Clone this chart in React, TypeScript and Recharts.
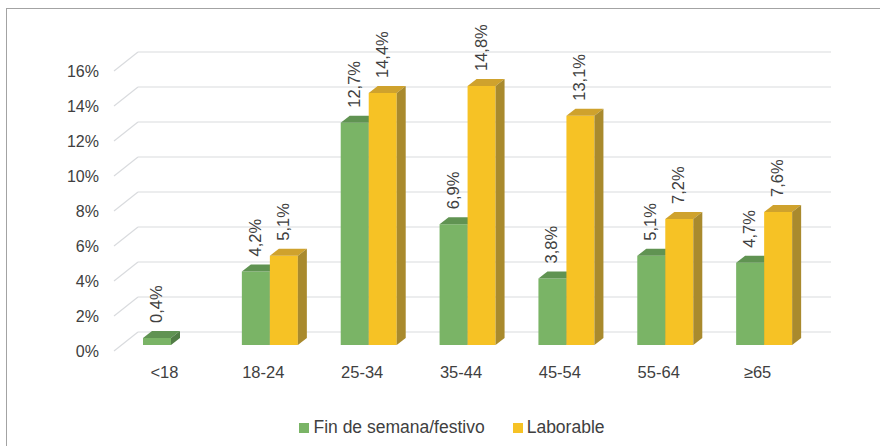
import React from 'react'
import { BarChart, Bar, XAxis, YAxis, CartesianGrid, Legend, LabelList } from 'recharts'

// age groups and share of trips (%)
const categories = ['<18', '18-24', '25-34', '35-44', '45-54', '55-64', '≥65']
const finDeSemana = [0.4, 4.2, 12.7, 6.9, 3.8, 5.1, 4.7]
const laborable: (number | null)[] = [null, 5.1, 14.4, 14.8, 13.1, 7.2, 7.6]
const yTicks = [0, 2, 4, 6, 8, 10, 12, 14, 16]

const seriesNames = ['Fin de semana/festivo', 'Laborable']

const data = categories.map((cat, i) => ({
  cat,
  fin: finDeSemana[i],
  lab: laborable[i]
}))

// 3D look: depth offsets of the bars and of the back wall
const DX = 9
const DY = 7
const FONT = '"Liberation Sans", Arial, sans-serif'
const TEXT = '#404040'

const palette = {
  fin: { front: '#7ab466', top: '#609352', side: '#517d45' },
  lab: { front: '#f6c225', top: '#cfa22d', side: '#a98a2d' }
}

const fmt = (v: number) => v.toFixed(1).replace('.', ',') + '%'

const makeShape = (c: { front: string; top: string; side: string }) => (props: any) => {
  const { x, y, width: w, height: h } = props
  if (h == null || h <= 0) return null
  return (
    <g>
      <rect x={x} y={y} width={w} height={h} fill={c.front} />
      <polygon points={`${x},${y} ${x + DX},${y - DY} ${x + w + DX},${y - DY} ${x + w},${y}`} fill={c.top} />
      <polygon
        points={`${x + w},${y} ${x + w + DX},${y - DY} ${x + w + DX},${y + h - DY} ${x + w},${y + h}`}
        fill={c.side}
      />
    </g>
  )
}

const renderValue = (props: any) => {
  const { x, y, width, value } = props
  if (value == null) return null
  const cx = x + width / 2 - 1
  const cy = y - 15
  return (
    <text
      x={cx}
      y={cy}
      transform={`rotate(-90, ${cx}, ${cy})`}
      textAnchor="start"
      dominantBaseline="central"
      fontFamily={FONT}
      fontSize={16.5}
      fill={TEXT}
    >
      {fmt(value)}
    </text>
  )
}

// slanted floor part + back wall line for every gridline
const gridLine = (props: any) => {
  const { x1, x2, y1, index } = props
  return (
    <g key={`grid-${index}`}>
      <line x1={x1 - 8} y1={y1 + 6} x2={x1 + 16} y2={y1 - 13} stroke="#d9dbde" strokeWidth={1.2} />
      <line x1={x1 + 16} y1={y1 - 13} x2={x2 + 17} y2={y1 - 13} stroke="#d9dbde" strokeWidth={1.2} />
    </g>
  )
}

const YTick = (props: any) => {
  const { x, y, payload } = props
  return (
    <text x={x - 15} y={y + 6} textAnchor="end" dominantBaseline="central" fontFamily={FONT} fontSize={16} fill={TEXT}>
      {payload.value}%
    </text>
  )
}

const XTick = (props: any) => {
  const { x, y, payload } = props
  return (
    <text x={x - 7} y={y + 19} textAnchor="middle" dominantBaseline="central" fontFamily={FONT} fontSize={16.5} fill={TEXT}>
      {payload.value}
    </text>
  )
}

const LegendContent = () => (
  <div
    style={{
      display: 'flex',
      justifyContent: 'center',
      alignItems: 'center',
      gap: 28,
      paddingLeft: 24,
      fontFamily: FONT,
      fontSize: 17.5,
      color: TEXT
    }}
  >
    {seriesNames.map((name, i) => (
      <div key={name} style={{ display: 'flex', alignItems: 'center', gap: 4 }}>
        <span style={{ width: 10, height: 10, background: i === 0 ? '#7ab466' : '#f6c225', display: 'inline-block' }} />
        <span>{name}</span>
      </div>
    ))}
  </div>
)

export default function App() {
  return (
    <div style={{ position: 'absolute', left: 0, top: 0, width: 880, height: 446, overflow: 'hidden', background: '#fff' }}>
      <div
        style={{
          position: 'absolute',
          left: 6,
          top: 8,
          width: 900,
          height: 500,
          borderLeft: '1px solid #a3a3a3',
          borderTop: '1px solid #a3a3a3'
        }}
      />
      <BarChart
        width={880}
        height={446}
        data={data}
        margin={{ top: 65, right: 66, left: 0, bottom: 71 }}
        barCategoryGap={21}
        barGap={0}
      >
        <CartesianGrid vertical={false} horizontal={gridLine} />
        <XAxis dataKey="cat" axisLine={false} tickLine={false} height={30} tick={<XTick />} interval={0} />
        <YAxis
          domain={[0, 16]}
          ticks={yTicks}
          axisLine={false}
          tickLine={false}
          width={122}
          tick={<YTick />}
          interval={0}
        />
        <Legend
          verticalAlign="middle"
          align="center"
          content={<LegendContent />}
          wrapperStyle={{ position: 'absolute', top: 417, left: 0, width: 880 }}
        />
        <Bar dataKey="fin" name={seriesNames[0]} fill={palette.fin.front} shape={makeShape(palette.fin)} isAnimationActive={false}>
          <LabelList dataKey="fin" content={renderValue} />
        </Bar>
        <Bar dataKey="lab" name={seriesNames[1]} fill={palette.lab.front} shape={makeShape(palette.lab)} isAnimationActive={false}>
          <LabelList dataKey="lab" content={renderValue} />
        </Bar>
      </BarChart>
    </div>
  )
}
